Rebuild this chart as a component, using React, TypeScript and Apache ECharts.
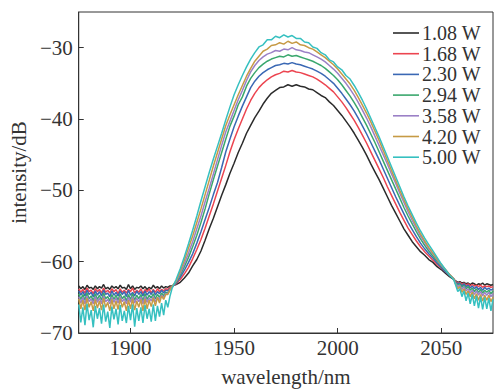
import React, { useEffect, useRef } from "react";
import * as echarts from "echarts";

const wavelength = [
  1875, 1876, 1877, 1878, 1879, 1880, 1881, 1882, 1883, 1884, 1885, 1886, 1887, 1888, 1889, 1890, 1891, 1892, 1893, 1894, 1895, 1896, 1897, 1898, 1899, 1900, 1901, 1902, 1903, 1904, 1905, 1906, 1907, 1908, 1909, 1910, 1911, 1912, 1913, 1914, 1915, 1916, 1917, 1918, 1919, 1920,
  1922, 1924, 1926, 1928, 1930, 1932, 1934, 1936, 1938, 1940, 1942, 1944, 1946, 1948, 1950, 1952, 1954, 1956, 1958, 1960, 1962, 1964, 1966, 1968, 1970, 1972, 1974, 1976, 1978, 1980, 1982, 1984, 1986, 1988, 1990, 1992, 1994, 1996, 1998, 2000, 2002, 2004, 2006, 2008, 2010, 2012, 2014, 2016, 2018, 2020, 2022, 2024, 2026, 2028, 2030, 2032, 2034, 2036, 2038, 2040, 2042, 2044, 2046, 2048, 2050, 2052, 2054, 2056,
  2057, 2058, 2059, 2060, 2061, 2062, 2063, 2064, 2065, 2066, 2067, 2068, 2069, 2070, 2071, 2072, 2073, 2074, 2075,
];

const p108 = [
  -63.4, -63.8, -63.5, -63.9, -63.3, -63.7, -63.6, -63.9, -63.4, -63.8, -63.5, -63.7, -63.2, -63.8, -63.6, -63.9, -63.4, -63.7, -63.5, -63.8, -63.3, -63.7, -63.6, -63.9, -63.2, -63.8, -63.4, -63.9, -63.6, -63.7, -63.4, -63.8, -63.5, -63.9, -63.6, -63.8, -63.3, -63.7, -63.5, -63.8, -63.4, -63.7, -63.5, -63.6, -63.4, -63.4,
  -63.2, -62.9, -62.3, -61.6, -60.6, -59.7, -58.5, -57.0, -55.4, -53.9, -52.3, -50.7, -49.2, -47.6, -46.2, -44.7, -43.4, -42.0, -40.9, -39.8, -38.9, -37.9, -37.1, -36.4, -36.0, -35.6, -35.5, -35.2, -35.4, -35.2, -35.4, -35.5, -35.8, -35.9, -36.3, -36.7, -37.0, -37.6, -38.1, -38.8, -39.5, -40.3, -41.1, -42.0, -43.0, -44.0, -45.1, -46.3, -47.4, -48.5, -49.7, -50.9, -52.1, -53.2, -54.3, -55.4, -56.3, -57.2, -57.9, -58.6, -59.1, -59.7, -60.1, -60.7, -61.1, -61.6, -62.1, -62.5,
  -62.7, -62.9, -62.8, -63.0, -62.9, -63.1, -63.0, -63.2, -63.0, -63.1, -63.3, -63.1, -63.2, -63.0, -63.3, -63.1, -63.2, -63.3, -63.2,
];

const p168 = [
  -63.8, -64.3, -63.9, -64.4, -63.7, -64.2, -64.0, -64.5, -63.8, -64.2, -63.9, -64.4, -63.7, -64.3, -64.0, -64.4, -63.8, -64.2, -63.9, -64.5, -63.8, -64.3, -64.0, -64.4, -63.9, -64.2, -63.7, -64.4, -64.0, -64.3, -63.8, -64.5, -63.9, -64.2, -63.8, -64.4, -63.9, -64.3, -63.8, -64.2, -63.9, -64.1, -63.8, -63.9, -63.6, -63.5,
  -63.1, -62.5, -61.7, -60.8, -59.6, -58.3, -56.9, -55.3, -53.6, -51.9, -50.1, -48.3, -46.5, -44.6, -42.9, -41.4, -40.0, -38.6, -37.4, -36.4, -35.6, -35.0, -34.5, -34.1, -33.8, -33.6, -33.3, -33.4, -33.2, -33.4, -33.5, -33.7, -33.9, -34.1, -34.4, -34.8, -35.2, -35.7, -36.2, -36.9, -37.6, -38.4, -39.3, -40.2, -41.2, -42.3, -43.4, -44.6, -45.8, -47.0, -48.2, -49.5, -50.7, -51.9, -53.1, -54.2, -55.3, -56.2, -57.1, -57.9, -58.6, -59.2, -59.8, -60.4, -60.9, -61.4, -61.9, -62.4,
  -62.8, -63.0, -62.9, -63.2, -63.0, -63.3, -63.1, -63.4, -63.2, -63.4, -63.3, -63.5, -63.3, -63.6, -63.4, -63.5, -63.4, -63.6, -63.5,
];

const p230 = [
  -64.1, -64.7, -64.2, -64.8, -64.0, -64.6, -64.3, -64.9, -64.1, -64.7, -64.2, -64.8, -64.0, -64.6, -64.4, -64.9, -64.1, -64.7, -64.3, -64.8, -64.1, -64.6, -64.2, -64.9, -64.0, -64.7, -64.3, -64.8, -64.1, -64.6, -64.2, -64.8, -64.1, -64.7, -64.2, -64.6, -64.0, -64.7, -64.2, -64.5, -64.0, -64.4, -64.0, -64.1, -63.8, -63.5,
  -63.0, -62.2, -61.2, -60.1, -58.9, -57.4, -55.8, -54.1, -52.4, -50.6, -48.9, -46.8, -44.6, -42.8, -41.1, -39.6, -38.2, -36.9, -35.6, -34.7, -34.0, -33.5, -33.1, -32.8, -32.5, -32.4, -32.2, -32.3, -32.1, -32.3, -32.4, -32.6, -32.8, -33.0, -33.3, -33.6, -34.0, -34.5, -35.0, -35.7, -36.4, -37.2, -38.0, -38.9, -39.9, -41.0, -42.1, -43.3, -44.5, -45.7, -47.0, -48.3, -49.6, -50.9, -52.1, -53.3, -54.5, -55.5, -56.5, -57.4, -58.2, -58.9, -59.5, -60.2, -60.8, -61.4, -61.9, -62.4,
  -62.9, -63.1, -63.0, -63.4, -63.1, -63.5, -63.3, -63.7, -63.4, -63.8, -63.5, -63.9, -63.6, -64.0, -63.6, -63.9, -63.7, -64.0, -63.8,
];

const p294 = [
  -64.5, -65.3, -64.6, -65.4, -64.4, -65.2, -64.8, -65.5, -64.5, -65.3, -64.7, -65.4, -64.4, -65.2, -64.9, -65.5, -64.6, -65.3, -64.7, -65.4, -64.5, -65.2, -64.8, -65.5, -64.6, -65.3, -64.5, -65.4, -64.7, -65.2, -64.6, -65.5, -64.5, -65.3, -64.7, -65.1, -64.5, -65.2, -64.6, -65.0, -64.4, -64.8, -64.3, -64.4, -63.9, -63.5,
  -62.9, -61.9, -60.7, -59.4, -57.9, -56.3, -54.5, -52.6, -50.5, -48.5, -46.6, -44.7, -42.8, -41.0, -39.6, -38.0, -36.9, -35.4, -34.3, -33.5, -32.8, -32.3, -31.9, -31.6, -31.4, -31.2, -31.3, -31.0, -31.2, -31.1, -31.3, -31.5, -31.7, -31.9, -32.2, -32.5, -32.9, -33.4, -33.9, -34.5, -35.2, -36.0, -36.8, -37.7, -38.7, -39.8, -40.9, -42.1, -43.3, -44.6, -45.9, -47.2, -48.5, -49.8, -51.1, -52.4, -53.6, -54.7, -55.8, -56.8, -57.7, -58.5, -59.2, -59.9, -60.6, -61.2, -61.8, -62.4,
  -63.0, -63.3, -63.1, -63.6, -63.3, -63.8, -63.5, -64.0, -63.7, -64.2, -63.8, -64.3, -63.9, -64.4, -64.0, -64.3, -64.0, -64.5, -64.1,
];

const p358 = [
  -64.9, -65.8, -65.0, -65.9, -64.8, -65.6, -65.2, -65.9, -64.9, -65.7, -65.1, -65.9, -64.8, -65.6, -65.3, -65.9, -65.0, -65.7, -65.1, -65.8, -64.9, -65.6, -65.2, -65.9, -65.0, -65.7, -64.9, -65.8, -65.1, -65.6, -65.0, -65.9, -64.9, -65.7, -65.1, -65.5, -64.9, -65.6, -65.0, -65.3, -64.7, -65.0, -64.5, -64.5, -64.0, -63.5,
  -62.8, -61.6, -60.3, -58.8, -57.2, -55.4, -53.6, -51.6, -49.7, -47.7, -45.7, -43.7, -41.8, -40.3, -38.8, -37.3, -36.0, -34.6, -33.4, -32.5, -31.8, -31.3, -30.9, -30.7, -30.4, -30.5, -30.2, -30.3, -30.0, -30.3, -30.4, -30.6, -30.7, -31.0, -31.3, -31.6, -32.0, -32.5, -33.0, -33.6, -34.3, -35.0, -35.8, -36.7, -37.7, -38.8, -39.9, -41.1, -42.4, -43.7, -45.0, -46.3, -47.7, -49.0, -50.4, -51.7, -53.0, -54.2, -55.3, -56.4, -57.3, -58.2, -58.9, -59.7, -60.5, -61.1, -61.8, -62.4,
  -63.1, -63.5, -63.3, -63.9, -63.5, -64.1, -63.8, -64.4, -64.0, -64.6, -64.1, -64.7, -64.2, -64.8, -64.3, -64.7, -64.3, -64.9, -64.5,
];

const p420 = [
  -65.2, -66.6, -65.4, -66.8, -65.1, -66.4, -65.6, -66.9, -65.3, -66.5, -65.5, -66.8, -65.1, -66.4, -65.7, -66.9, -65.3, -66.6, -65.5, -66.7, -65.2, -66.4, -65.6, -66.9, -65.4, -66.6, -65.2, -66.8, -65.5, -66.4, -65.3, -66.9, -65.2, -66.6, -65.4, -66.3, -65.1, -66.2, -65.0, -65.8, -64.8, -65.3, -64.6, -64.6, -64.0, -63.5,
  -62.7, -61.3, -59.8, -58.1, -56.4, -54.5, -52.6, -50.6, -48.6, -46.6, -44.7, -42.8, -40.9, -39.4, -38.0, -36.6, -35.3, -34.0, -32.9, -31.9, -31.2, -30.5, -30.2, -29.7, -29.6, -29.3, -29.5, -29.1, -29.4, -29.2, -29.6, -29.7, -30.0, -30.2, -30.6, -31.0, -31.4, -31.9, -32.4, -33.0, -33.7, -34.4, -35.1, -36.0, -37.0, -38.1, -39.2, -40.4, -41.7, -43.0, -44.4, -45.8, -47.2, -48.6, -50.0, -51.3, -52.6, -53.8, -55.0, -56.1, -57.1, -58.0, -58.8, -59.6, -60.4, -61.1, -61.8, -62.4,
  -63.2, -63.8, -63.5, -64.3, -63.8, -64.6, -64.1, -64.9, -64.3, -65.2, -64.5, -65.4, -64.6, -65.5, -64.7, -65.4, -64.7, -65.6, -65.0,
];

const p500 = [
  -66.0, -68.5, -66.4, -68.9, -65.9, -68.2, -66.8, -69.2, -66.2, -68.0, -66.5, -68.7, -66.0, -68.4, -67.0, -69.3, -66.3, -68.1, -66.6, -68.8, -66.1, -68.3, -66.9, -68.6, -66.2, -68.2, -66.0, -69.1, -66.5, -68.3, -66.4, -68.6, -66.1, -68.0, -66.6, -68.4, -66.0, -68.3, -66.2, -67.7, -65.8, -67.5, -65.4, -66.4, -64.9, -63.8,
  -62.5, -61.0, -59.3, -57.5, -55.6, -53.6, -51.5, -49.5, -47.5, -45.6, -43.8, -42.0, -40.1, -38.3, -36.6, -35.2, -33.9, -32.7, -31.6, -30.7, -29.9, -29.6, -28.9, -28.9, -28.4, -28.6, -28.2, -28.5, -28.3, -28.7, -28.7, -29.2, -29.3, -29.9, -30.1, -30.7, -31.0, -31.7, -32.0, -32.7, -33.1, -33.9, -34.4, -35.3, -36.3, -37.4, -38.6, -39.9, -41.2, -42.5, -43.9, -45.3, -46.7, -48.1, -49.5, -50.9, -52.2, -53.4, -54.6, -55.7, -56.7, -57.6, -58.5, -59.4, -60.3, -61.1, -61.9, -62.5,
  -63.3, -64.2, -63.8, -64.9, -64.1, -65.5, -64.4, -65.9, -64.6, -66.2, -64.8, -66.5, -64.9, -66.7, -65.0, -66.6, -65.1, -66.9, -65.3,
];

const seriesNames = ["1.08 W", "1.68 W", "2.30 W", "2.94 W", "3.58 W", "4.20 W", "5.00 W"];
const seriesValues = [p108, p168, p230, p294, p358, p420, p500];
const seriesColors = ["#2b2b2b", "#ec4550", "#3a68b4", "#3aa76d", "#9b80c6", "#c69a45", "#36c0c0"];

const xTicks = [1900, 1950, 2000, 2050];
const yTicks = [-70, -60, -50, -40, -30];

const FONT = "Liberation Serif";
const INK = "#333";

export default function App() {
  const ref = useRef<HTMLDivElement>(null);
  useEffect(() => {
    if (!ref.current) return;
    const chart = echarts.init(ref.current, undefined, { renderer: "svg" });
    const fmt = (v: number) => (v < 0 ? "\u2212" + Math.abs(v) : String(v));
    chart.setOption({
      animation: false,
      backgroundColor: "#fff",
      grid: {
        left: 77,
        right: 1,
        top: 12,
        bottom: 49,
        show: true,
        borderColor: INK,
        borderWidth: 1,
        backgroundColor: "transparent",
      },
      legend: {
        orient: "vertical",
        left: 393,
        top: 23,
        padding: 0,
        icon: "rect",
        itemWidth: 26,
        itemHeight: 1.6,
        itemGap: 0.7,
        textStyle: { fontFamily: FONT, fontSize: 20, color: INK, lineHeight: 20, padding: [0, 0, 0, -2] },
        data: seriesNames,
      },
      xAxis: {
        type: "value",
        min: 1875,
        max: 2075,
        name: "wavelength/nm",
        nameLocation: "middle",
        nameGap: 33,
        nameTextStyle: { fontFamily: FONT, fontSize: 21, color: INK },
        axisLine: { show: true, lineStyle: { color: INK, width: 1 } },
        axisTick: {
          show: true,
          inside: true,
          length: 5,
          lineStyle: { color: INK },
          customValues: xTicks,
        },
        axisLabel: {
          fontFamily: FONT,
          fontSize: 21,
          color: INK,
          margin: 4,
          customValues: xTicks,
          formatter: (v: number) => (xTicks.includes(v) ? String(v) : ""),
        },
        splitLine: { show: false },
      },
      yAxis: {
        type: "value",
        min: -70,
        max: -25,
        interval: 10,
        name: "intensity/dB",
        nameLocation: "middle",
        nameGap: 45,
        nameTextStyle: { fontFamily: FONT, fontSize: 21, color: INK },
        axisLine: { show: true, lineStyle: { color: INK, width: 1 } },
        axisTick: {
          show: true,
          inside: true,
          length: 5,
          lineStyle: { color: INK },
          customValues: yTicks,
        },
        axisLabel: {
          fontFamily: FONT,
          fontSize: 21,
          color: INK,
          margin: 6,
          customValues: yTicks,
          formatter: (v: number) => (yTicks.includes(v) ? fmt(v) : ""),
        },
        splitLine: { show: false },
      },
      series: seriesNames.map((name, k) => ({
        name,
        type: "line",
        symbol: "none",
        showSymbol: false,
        clip: true,
        color: seriesColors[k],
        lineStyle: { width: 1.5, color: seriesColors[k] },
        data: wavelength.map((w, i) => [w, seriesValues[k][i]]),
      })),
    });
    return () => chart.dispose();
  }, []);
  return (
    <div
      ref={ref}
      style={{ position: "fixed", left: 0, top: 0, width: 494, height: 392, background: "#fff" }}
    />
  );
}
